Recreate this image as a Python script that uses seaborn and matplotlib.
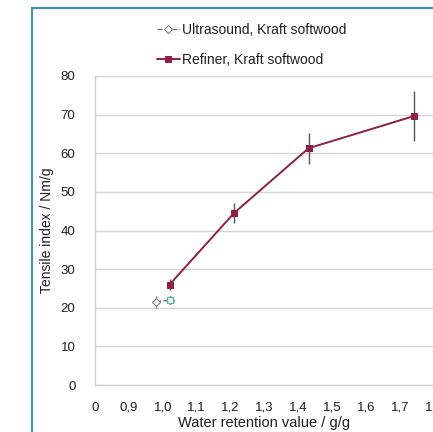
import matplotlib
matplotlib.use("Agg")
import matplotlib.pyplot as plt
import seaborn as sns
import pandas as pd
from matplotlib.patches import Rectangle

# Refiner, Kraft softwood
refiner_wrv = [1.02, 1.21, 1.43, 1.74]
refiner_ti = [26.0, 44.5, 61.3, 69.6]
refiner_err = [1.5, 2.6, 4.0, 6.5]

# Ultrasound, Kraft softwood
ultra_wrv = [0.98, 1.02]
ultra_ti = [21.5, 22.0]
ultra_err = [1.5, 1.0]

x_ticks = [0.8, 0.9, 1.0, 1.1, 1.2, 1.3, 1.4, 1.5, 1.6, 1.7, 1.8]
x_labels = ["0", "0,9", "1,0", "1,1", "1,2", "1,3", "1,4", "1,5", "1,6", "1,7", "1,8"]
y_ticks = [0, 10, 20, 30, 40, 50, 60, 70, 80]

sns.set_style("white")
plt.rcParams['font.family'] = ['Liberation Sans', 'DejaVu Sans']

df_ref = pd.DataFrame({"wrv": refiner_wrv, "ti": refiner_ti})
df_us = pd.DataFrame({"wrv": ultra_wrv, "ti": ultra_ti})

fig = plt.figure(figsize=(4.33, 4.32), dpi=100)
ax = fig.add_axes([95 / 433, 47 / 432, 339 / 433, 309 / 432])

red = "#8e1f45"
grey = "#777777"
teal = "#5fb7a3"
txt = "#1e1e1e"

# error bars
ax.errorbar(refiner_wrv, refiner_ti, yerr=refiner_err, fmt="none",
            ecolor="#555555", elinewidth=1.0, zorder=2)
ax.errorbar(ultra_wrv, ultra_ti, yerr=ultra_err, fmt="none",
            ecolor=grey, elinewidth=0.8, zorder=2)

sns.lineplot(data=df_us, x="wrv", y="ti", ax=ax, color=grey, linestyle="--",
             marker="D", markersize=4.5, markerfacecolor="white",
             markeredgecolor=grey, linewidth=1.0, label="Ultrasound, Kraft softwood",
             zorder=3)
ax.plot(ultra_wrv[-1:], ultra_ti[-1:], marker="s", markersize=5,
        markerfacecolor="white", markeredgecolor=teal, linestyle="none", zorder=4)
sns.lineplot(data=df_ref, x="wrv", y="ti", ax=ax, color=red, marker="s",
             markersize=4.5, markeredgecolor=red, linewidth=1.4,
             label="Refiner, Kraft softwood", zorder=5)

ax.set_xlim(0.8, 1.8)
ax.set_ylim(0, 80)
ax.set_xticks(x_ticks)
ax.set_xticklabels(x_labels)
ax.set_yticks(y_ticks)
ax.tick_params(axis="y", labelsize=9.5, colors=txt, length=0, pad=14)
ax.tick_params(axis="x", labelsize=9.5, colors=txt, length=0, pad=12)
ax.grid(axis="y", color="#d5d5d5", linewidth=1.0)
for s in ["top", "right"]:
    ax.spines[s].set_visible(False)
for s in ["left", "bottom"]:
    ax.spines[s].set_color("#d0d0d0")
    ax.spines[s].set_linewidth(1.0)

ax.set_xlabel("Water retention value / g/g", fontsize=10.5, color=txt, labelpad=2)
ax.set_ylabel("Tensile index / Nm/g", fontsize=10, color=txt, labelpad=5)

leg = ax.legend(loc="center", bbox_to_anchor=(252 / 433, 1 - 45 / 432),
                bbox_transform=fig.transFigure, frameon=False,
                prop={"size": 10},
                handlelength=1.6, handletextpad=0.2, labelspacing=1.2)
for t in leg.get_texts():
    t.set_color(txt)

# blue frame of the original figure
fig.add_artist(Rectangle((32 / 433, -0.1), 1.2, 1.1 - 8 / 432,
                         transform=fig.transFigure, fill=False,
                         edgecolor="#3d8fc4", linewidth=1.5))

fig.savefig("out.png", dpi=100)
